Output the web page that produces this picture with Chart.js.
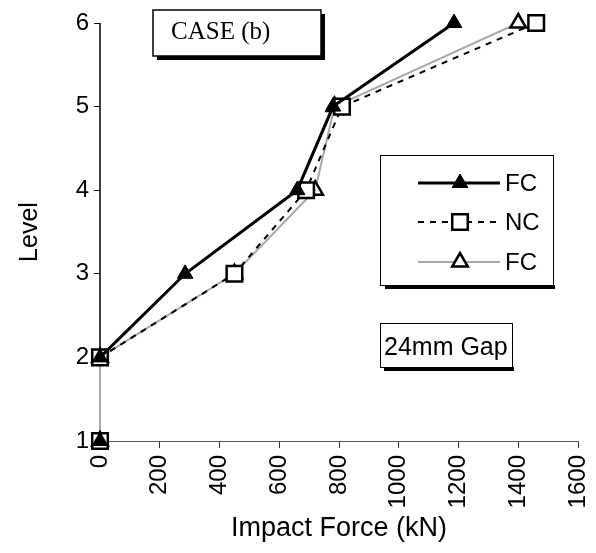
<!DOCTYPE html>
<html><head><meta charset="utf-8">
<script src="https://cdn.jsdelivr.net/npm/chart.js@4.4.1/dist/chart.umd.min.js"></script>
<style>html,body{margin:0;padding:0;background:#fff;}#wrap{width:596px;height:553px;}</style>
</head><body><div id="wrap"><canvas id="c" width="596" height="553"></canvas></div>
<script>
const levels = [1, 2, 3, 4, 5, 6];
const fcForce = [0, 0, 285, 660, 780, 1185];
const ncForce = [0, 0, 450, 690, 810, 1460];
const fc2Force = [0, 0, 450, 720, 785, 1400];
const xTicks = [0, 200, 400, 600, 800, 1000, 1200, 1400, 1600];
const seriesLabels = ['FC', 'NC', 'FC'];
const caseLabel = 'CASE (b)';
const gapLabel = '24mm Gap';

const pts = arr => arr.map((x, i) => ({x: x, y: levels[i]}));
const SANS = '"Liberation Sans", Arial, sans-serif';

const axisLine = {
  id: 'axisLine',
  beforeDatasetsDraw(chart) {
    const ctx = chart.ctx, y = chart.scales.y, a = chart.chartArea;
    ctx.save();
    ctx.strokeStyle = '#000'; ctx.lineWidth = 1.5;
    ctx.beginPath();
    ctx.moveTo(a.left, y.getPixelForValue(6));
    ctx.lineTo(a.left, y.getPixelForValue(2));
    ctx.stroke();
    ctx.restore();
  }
};

const annotations = {
  id: 'annot',
  afterDraw(chart) {
    const ctx = chart.ctx;
    ctx.save();
    // CASE (b) box
    ctx.fillStyle = '#000';
    ctx.fillRect(157, 56, 168, 4);
    ctx.fillRect(321, 14, 4, 46);
    ctx.fillStyle = '#fff';
    ctx.fillRect(153, 10, 168, 46);
    ctx.strokeStyle = '#000'; ctx.lineWidth = 1.5;
    ctx.strokeRect(153, 10, 168, 46);
    ctx.fillStyle = '#000';
    ctx.font = '25px "Liberation Serif", "Times New Roman", serif';
    ctx.textBaseline = 'alphabetic'; ctx.textAlign = 'left';
    ctx.fillText(caseLabel, 171, 39);

    // 24mm Gap box
    ctx.fillStyle = '#000';
    ctx.fillRect(384, 367, 130, 4);
    ctx.fillStyle = '#fff';
    ctx.fillRect(380, 323, 132, 44);
    ctx.lineWidth = 1; ctx.strokeStyle = '#000';
    ctx.strokeRect(380.5, 323.5, 132, 44);
    ctx.fillStyle = '#000';
    ctx.font = '25px ' + SANS;
    ctx.fillText(gapLabel, 384, 355);

    // Legend box
    ctx.fillStyle = '#000';
    ctx.fillRect(385, 285, 170, 4);
    ctx.fillStyle = '#fff';
    ctx.fillRect(380, 155, 173, 130);
    ctx.lineWidth = 1; ctx.strokeStyle = '#000';
    ctx.strokeRect(380.5, 155.5, 173, 130);
    const ys = [183, 222, 262];
    chart.data.datasets.forEach((ds, i) => {
      const y = ys[i];
      ctx.save();
      ctx.strokeStyle = ds.borderColor;
      ctx.lineWidth = ds.borderWidth;
      ctx.setLineDash(ds.borderDash || []);
      ctx.beginPath(); ctx.moveTo(418, y); ctx.lineTo(500, y); ctx.stroke();
      ctx.restore();
      ctx.save();
      ctx.fillStyle = ds.pointBackgroundColor;
      ctx.strokeStyle = ds.pointBorderColor;
      ctx.lineWidth = ds.pointBorderWidth;
      Chart.helpers.drawPoint(ctx, {pointStyle: ds.pointStyle, radius: ds.pointRadius, rotation: 0, borderWidth: ds.pointBorderWidth}, 460, y);
      ctx.restore();
      ctx.fillStyle = '#000';
      ctx.font = '24px ' + SANS;
      ctx.textBaseline = 'middle';
      ctx.fillText(seriesLabels[i], 505, y + 1);
    });
    ctx.restore();
  }
};

const hideFirst = c => c.p0DataIndex === 0 ? 'rgba(0,0,0,0)' : undefined;

new Chart(document.getElementById('c'), {
  type: 'scatter',
  data: {
    datasets: [
      {label: seriesLabels[0], data: pts(fcForce), showLine: true, clip: false, borderColor: '#000', borderWidth: 3,
       segment: {borderColor: hideFirst},
       pointStyle: 'triangle', pointRadius: 9, pointBackgroundColor: '#000', pointBorderColor: '#000', pointBorderWidth: 1},
      {label: seriesLabels[1], data: pts(ncForce), showLine: true, clip: false, borderColor: '#000', borderWidth: 2, borderDash: [6, 6],
       segment: {borderColor: hideFirst},
       pointStyle: 'rect', pointRadius: 11, pointBackgroundColor: '#fff', pointBorderColor: '#000', pointBorderWidth: 2.5},
      {label: seriesLabels[2], data: pts(fc2Force), showLine: true, clip: false, borderColor: '#a8a8a8', borderWidth: 2,
       pointStyle: 'triangle', pointRadius: 9, pointBackgroundColor: '#fff', pointBorderColor: '#000', pointBorderWidth: 2.5}
    ]
  },
  options: {
    responsive: false, animation: false,
    layout: {padding: {left: 0, top: 23, right: 18, bottom: 0}},
    plugins: {legend: {display: false}, tooltip: {enabled: false}},
    scales: {
      x: {
        type: 'linear', min: 0, max: 1600,
        afterBuildTicks: s => { s.ticks = xTicks.map(v => ({value: v})); },
        afterFit: s => { s.height = 112; s.paddingLeft = 0; s.paddingRight = 0; },
        grid: {drawOnChartArea: false, drawTicks: true, tickLength: 7, color: '#333', tickWidth: 1},
        border: {display: true, color: '#555', width: 1},
        ticks: {color: '#000', font: {size: 24, family: SANS}, minRotation: 90, maxRotation: 90, padding: 7,
                callback: v => String(v)},
        title: {display: true, text: 'Impact Force (kN)', color: '#000', font: {size: 27, family: SANS}, padding: {top: 0, bottom: 8}}
      },
      y: {
        type: 'linear', min: 1, max: 6,
        afterBuildTicks: s => { s.ticks = levels.map(v => ({value: v})); },
        afterFit: s => { s.width = 100; s.paddingTop = 0; s.paddingBottom = 0; },
        grid: {drawOnChartArea: false, drawTicks: true, tickLength: 6, color: '#000'},
        border: {display: false},
        ticks: {color: '#000', font: {size: 24, family: SANS}, padding: 5, callback: v => String(v)},
        title: {display: true, text: 'Level', color: '#000', font: {size: 25, family: SANS}, padding: {top: 15, bottom: 0}}
      }
    }
  },
  plugins: [axisLine, annotations]
});
</script></body></html>
